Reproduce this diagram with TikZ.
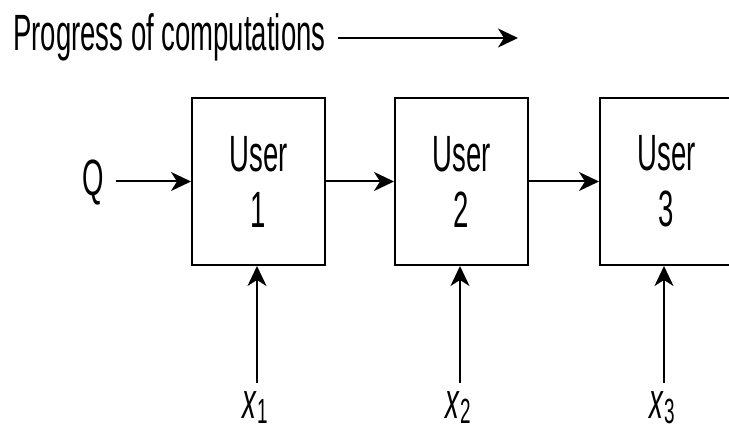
\documentclass[tikz,border=0pt]{standalone}
\usepackage{fontspec}
\setmainfont{Liberation Sans}[FakeStretch=0.54]
\usetikzlibrary{arrows.meta}
\begin{document}
\begin{tikzpicture}[x=1pt,y=-1pt,
  lbl/.style={inner sep=0pt,font=\fontsize{51}{56}\selectfont},
  userbox/.style={draw,line width=2pt,minimum width=133pt,minimum height=167pt,inner sep=0pt,align=center,font=\fontsize{51}{56}\selectfont},
  arr/.style={line width=2pt,-{Stealth[length=20pt,width=19pt,inset=6pt]}}]
\clip (0,0) rectangle (729,435);
\fill[white] (0,0) rectangle (729,435);
\node[lbl,anchor=base west] (title) at (13,51) {Progress of computations};
\coordinate (pa) at (338,38);
\coordinate (pb) at (518,38);
\draw[arr] (pa) -- (pb);
\node[userbox] (box1) at (258.5,181.5) {User\\1};
\node[userbox] (box2) at (461.5,181.5) {User\\2};
\node[userbox] (box3) at (666.5,181.5) {User\\3};
\node[lbl] (q) at (93,183) {Q};
\draw[arr,shorten <=12pt] (q.east |- box1.west) -- (box1.west);
\draw[arr] (box1.east) -- (box2.west);
\draw[arr] (box2.east) -- (box3.west);
\foreach \i/\xx in {1/257,2/460,3/664}{
  \node[lbl,anchor=base] (x\i) at (\xx-2,419) {\textit{x}\raisebox{-5pt}{\fontsize{35}{35}\selectfont\i}};
  \coordinate (s\i) at (\xx,383);
  \draw[arr] (s\i) -- (s\i |- box\i.south);
}
\end{tikzpicture}
\end{document}
